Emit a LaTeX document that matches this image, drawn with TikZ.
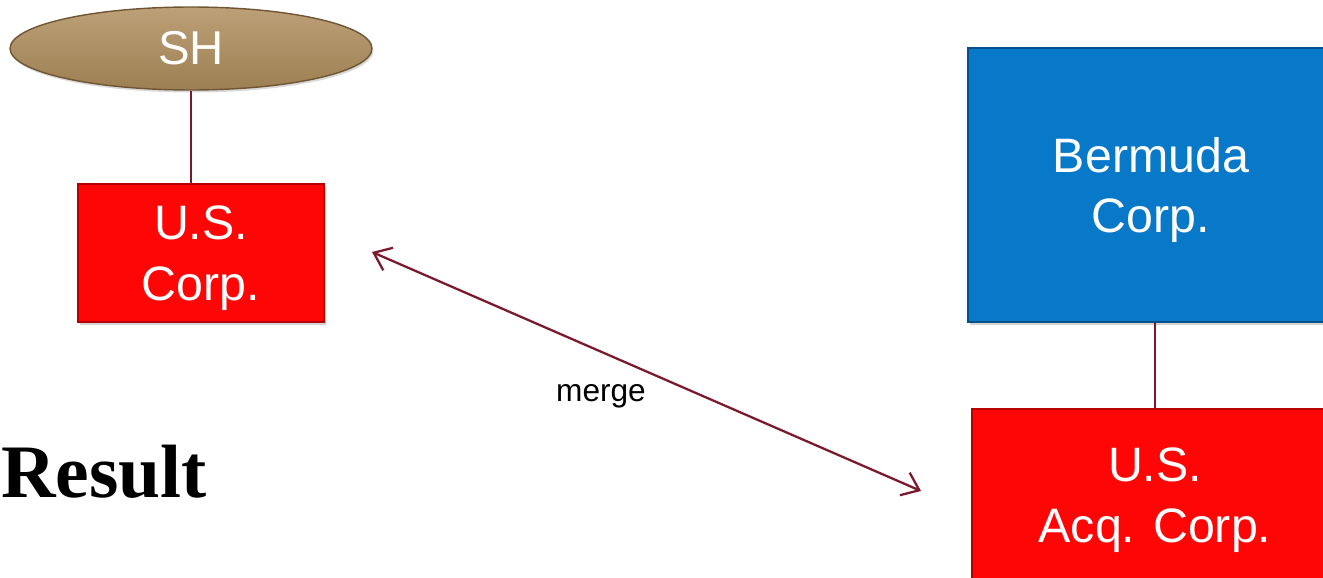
\documentclass[tikz,border=0pt]{standalone}
\usepackage{xcolor}
\usepackage{fontspec}
\setmainfont{Liberation Sans}
\newfontfamily\resultfont{Liberation Serif}
\usepackage{tikz}
\usetikzlibrary{arrows.meta,shapes.geometric,shadows}
\definecolor{MgRed}{HTML}{FF0606}
\definecolor{MgRedEdge}{HTML}{B80000}
\definecolor{MgBlue}{HTML}{0878C8}
\definecolor{MgBlueEdge}{HTML}{05508A}
\definecolor{MgTanTop}{HTML}{BDA077}
\definecolor{MgTanBot}{HTML}{9C7F52}
\definecolor{MgTanEdge}{HTML}{6E5634}
\definecolor{MgLine}{HTML}{7B1A2E}

\begin{document}
\begin{tikzpicture}[x=0.02cm,y=-0.02cm,
  corpbox/.style={rectangle,fill=MgRed,draw=MgRedEdge,line width=0.8pt,text=white,align=center,
    font=\fontsize{27.5}{34.5}\selectfont,inner sep=0pt,text depth=0pt,
    drop shadow={shadow xshift=0.04cm,shadow yshift=-0.06cm,opacity=0.35}},
  bermbox/.style={corpbox,fill=MgBlue,draw=MgBlueEdge},
  holder/.style={ellipse,top color=MgTanTop,bottom color=MgTanBot,draw=MgTanEdge,line width=0.8pt,
    text=white,font=\fontsize{27}{31}\selectfont,inner sep=0pt,minimum width=7.24cm,minimum height=1.66cm,
    drop shadow={shadow xshift=0.03cm,shadow yshift=-0.05cm,opacity=0.3}},
  link/.style={MgLine,line width=1.3pt},
  swap/.style={MgLine,line width=1.3pt,{Straight Barb[length=9pt,width=14pt]}-{Straight Barb[length=9pt,width=14pt]}}]
\useasboundingbox (0,0) rectangle (1323,578);
\clip (0,0) rectangle (1323,578);
\node[holder] (sh) at (191,48.5) {SH};
\node[corpbox,minimum width=4.92cm,minimum height=2.76cm] (uscorp) at (201,253) {U.S.\\Corp.};
\node[bermbox,minimum width=7.32cm,minimum height=5.48cm] (bermuda) at (1151,185) {Bermuda\\Corp.};
\node[corpbox,minimum width=7.32cm,minimum height=3.44cm] (acq) at (1155,495) {U.S.\\Acq. Corp.};
\draw[link] (sh.south) -- (sh.south |- uscorp.north);
\draw[link] (bermuda.south -| acq.north) -- (acq.north);
\coordinate (mergeA) at (372,252);
\coordinate (mergeB) at (921,491);
\draw[swap] (mergeA) -- (mergeB);
\node[font=\fontsize{18}{21}\selectfont] (merge) at (601,396) {merge};
\node[anchor=base west,inner sep=0pt,font=\resultfont\bfseries\fontsize{43}{48}\selectfont] (result) at (1,497) {Result};
\end{tikzpicture}
\end{document}
